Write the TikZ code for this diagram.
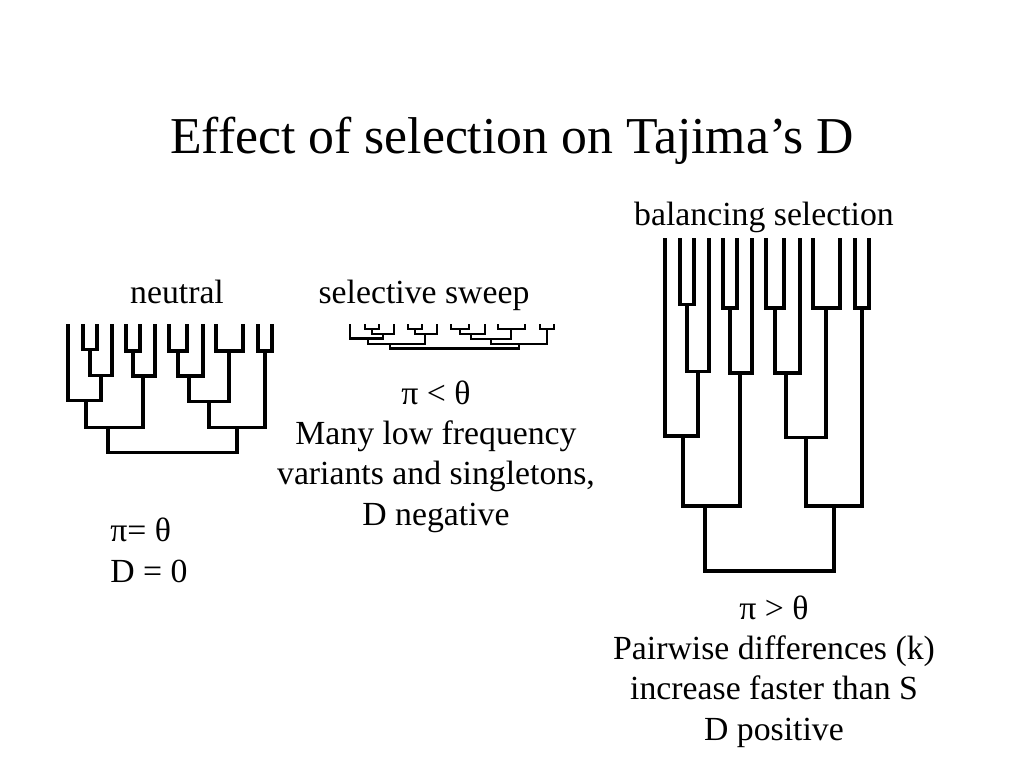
\documentclass[tikz,border=0pt]{standalone}
\usepackage{fontspec}
\setmainfont{Liberation Serif}

% one genealogy of 14 leaves; #1,#2 = top of first leaf, #3 = height, #4 = line width
\newcommand{\genetree}[4]{%
  \begin{scope}[shift={(#1,#2)}, yscale=#3, line width=#4]
    % left clade
    \draw (15,0) |- (29,0.2) -- (29,0);
    \draw (22,0.2) |- (44,0.40) -- (44,0);
    \draw (0,0) |- (33,0.595) -- (33,0.40);
    \draw (58,0) |- (72,0.21) -- (72,0);
    \draw (65,0.21) |- (87,0.405) -- (87,0);
    \draw (18,0.595) |- (75,0.805) -- (75,0.405);
    % right clade
    \draw (101,0) |- (119,0.21) -- (119,0);
    \draw (110,0.21) |- (135,0.405) -- (135,0);
    \draw (148,0) |- (175,0.21) -- (175,0);
    \draw (121,0.405) |- (161,0.6) -- (161,0.21);
    \draw (190,0) |- (204,0.21) -- (204,0);
    \draw (141,0.6) |- (197,0.805) -- (197,0.21);
    % root
    \draw (40,0.805) |- (169,1) -- (169,0.805);
  \end{scope}}

\begin{document}
\begin{tikzpicture}[x=0.025cm,y=-0.025cm,
  lbl/.style={anchor=base, align=center, inner sep=0pt,
    font=\fontsize{24}{28.6}\selectfont}]

  \useasboundingbox (0,0) rectangle (1024,768);

  % Title
  \node[anchor=base, inner sep=0pt, font=\fontsize{36.8}{44}\selectfont]
    (title) at (512,153) {Effect of selection on Tajima’s D};

  % Neutral (base of a multi-line node = its last line)
  \node[lbl] (neutral) at (177,303) {neutral};
  \genetree{68}{324}{128.7}{2.4pt}
  \node[lbl, align=left, anchor=base west] (neutralD) at (110,582)
    {π= θ\\D = 0};

  % Selective sweep
  \node[lbl] (sweep) at (424,303) {selective sweep};
  \genetree{350}{324}{24.5}{1.6pt}
  \node[lbl] (sweepD) at (436,525)
    {π < θ\\Many low frequency\\variants and singletons,\\D negative};

  % Balancing selection
  \node[lbl] (balancing) at (764,225) {balancing selection};
  \genetree{665}{238}{333}{2.4pt}
  \node[lbl] (balancingD) at (774,740)
    {π > θ\\Pairwise differences (k)\\increase faster than S\\D positive};

\end{tikzpicture}
\end{document}
